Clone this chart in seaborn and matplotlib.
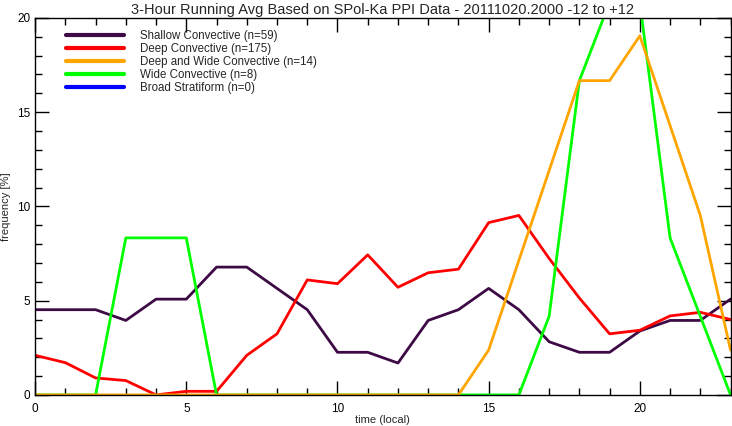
import seaborn as sns
import matplotlib.pyplot as plt
import pandas as pd
from matplotlib.ticker import MultipleLocator

hours = list(range(24))

shallow = [4.52, 4.52, 4.52, 3.95, 5.08, 5.08, 6.78, 6.78, 5.65, 4.52, 2.26, 2.26,
           1.69, 3.95, 4.52, 5.65, 4.52, 2.82, 2.26, 2.26, 3.39, 3.95, 3.95, 5.08]
deep = [2.10, 1.71, 0.90, 0.76, 0.0, 0.19, 0.19, 2.10, 3.24, 6.10, 5.90, 7.43,
        5.71, 6.48, 6.67, 9.14, 9.52, 7.24, 5.14, 3.24, 3.43, 4.19, 4.38, 4.00]
deep_wide = [0, 0, 0, 0, 0, 0, 0, 0, 0, 0, 0, 0,
             0, 0, 0, 2.38, 7.14, 11.90, 16.67, 16.67, 19.05, 14.29, 9.52, 2.38]
wide = [0, 0, 0, 8.33, 8.33, 8.33, 0, 0, 0, 0, 0, 0,
        0, 0, 0, 0, 0, 4.17, 16.67, 20.83, 20.83, 8.33, 4.17, 0]
# n=0 -> no data, nothing drawn
broad = [float('nan')] * 24

names = ['Shallow Convective (n=59)', 'Deep Convective (n=175)',
         'Deep and Wide Convective (n=14)', 'Wide Convective (n=8)',
         'Broad Stratiform (n=0)']
colors = ['#3d0a45', '#ff0000', '#ffa500', '#00ff00', '#0000ff']
series = [shallow, deep, deep_wide, wide, broad]

sns.set_style('ticks')
plt.rcParams['font.family'] = ['Liberation Sans', 'DejaVu Sans']

fig = plt.figure(figsize=(7.32, 4.26), dpi=100)
ax = fig.add_axes([0.048, 0.073, 0.950, 0.885])

# green under orange on the zero line
order = [0, 1, 3, 2]
for i in order:
    df = pd.DataFrame({'hour': hours, 'freq': series[i]})
    sns.lineplot(data=df, x='hour', y='freq', color=colors[i], linewidth=2,
                 label=names[i], ax=ax)
ax.plot([], [], color=colors[4], linewidth=2, label=names[4])

ax.set_xlim(0, 23)
ax.set_ylim(0, 20)
ax.xaxis.set_major_locator(MultipleLocator(5))
ax.xaxis.set_minor_locator(MultipleLocator(1))
ax.yaxis.set_major_locator(MultipleLocator(5))
ax.yaxis.set_minor_locator(MultipleLocator(1))
ax.tick_params(which='both', direction='in', top=True, right=True, labelsize=8.5,
               width=1, colors='black')
ax.tick_params(which='major', length=10)
ax.tick_params(which='minor', length=5)
ax.tick_params(axis='x', which='major', pad=6)
for s in ax.spines.values():
    s.set_linewidth(1)
    s.set_color('black')

ax.set_xlabel('time (local)', fontsize=8, labelpad=0)
ax.set_ylabel('frequency [%]', fontsize=8, labelpad=4)
ax.set_title('3-Hour Running Avg Based on SPol-Ka PPI Data - 20111020.2000 -12 to +12',
             fontsize=10.5, pad=3)

handles, labels = ax.get_legend_handles_labels()
lookup = dict(zip(labels, handles))
leg = ax.legend([lookup[n] for n in names], names, loc='upper left', frameon=False,
                fontsize=8.3, handlelength=5.0, handletextpad=1.4, labelspacing=0.1,
                bbox_to_anchor=(0.033, 0.99), borderaxespad=0.3)
for line in leg.get_lines():
    line.set_linewidth(3)

fig.savefig('out.png', dpi=100)
